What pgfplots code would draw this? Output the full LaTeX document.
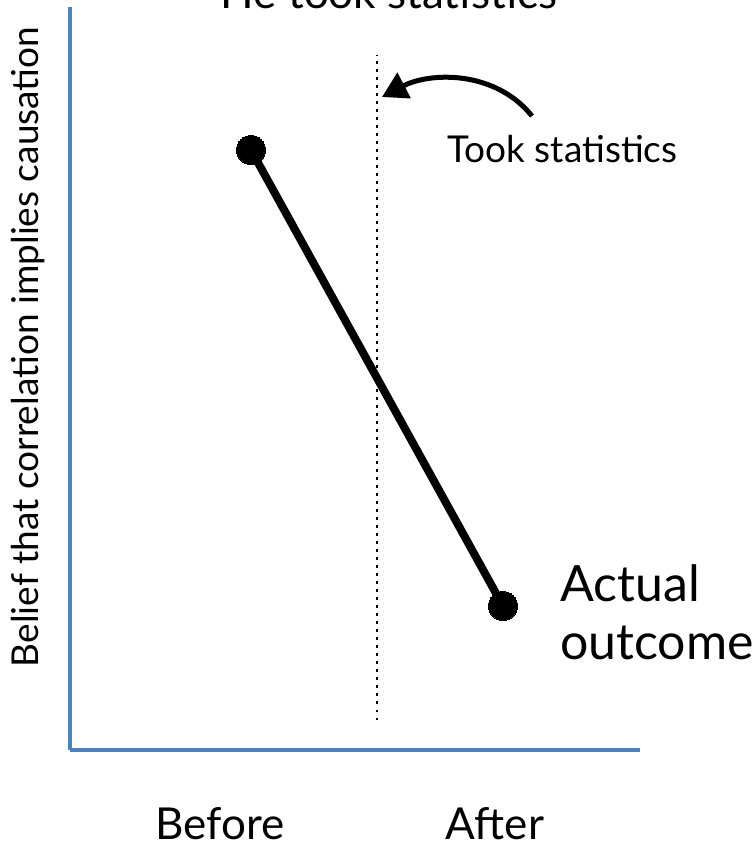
\documentclass[border=0pt]{standalone}
\usepackage{pgfplots}
\pgfplotsset{compat=1.18}
\usepackage{fontspec}
\setmainfont{Lato}
\usetikzlibrary{arrows.meta}
\definecolor{axisblue}{RGB}{79,129,189}
\begin{document}
\begin{tikzpicture}[x=1pt,y=1pt]
\begin{axis}[
  scale only axis, width=570pt, height=743pt,
  xmin=0.2817, xmax=2.5437, ymin=0, ymax=743,
  axis x line=bottom, axis y line=left,
  axis line style={-, draw=axisblue, line width=4pt},
  ytick=\empty,
  xtick={0.877,1.968}, xticklabels={Before,After},
  major tick length=0pt,
  xticklabel style={font=\fontsize{44}{50}\selectfont, anchor=base, inner sep=0pt, yshift=-89pt},
  ylabel={Belief that correlation implies causation},
  ylabel style={font=\fontsize{37}{42}\selectfont, at={(axis description cs:-0.0737,0.5424)}, anchor=center},
  clip=false,
]
\addplot[black, line width=2.5pt, dash pattern=on 2.5pt off 5.5pt] coordinates {(1.5,30) (1.5,695)};
\addplot[black, line width=8pt, mark=*, mark size=14.5pt, mark options={line width=0pt}] coordinates {(1,600) (2,144)};
\coordinate (O) at (rel axis cs:0,0);
\end{axis}
\begin{scope}[shift={(O)}, shift={(-70,750)}]
\draw[line width=5pt, -{Triangle[length=25pt,width=28pt]}] (532,-116) .. controls (495,-70) and (430,-72) .. (382,-97);
\node[anchor=base west, inner sep=0pt, font=\fontsize{37}{42}\selectfont] at (447,-163) {Took statistics};
\node[anchor=base west, inner sep=0pt, font=\fontsize{50}{56}\selectfont] at (560,-602) {Actual};
\node[anchor=base west, inner sep=0pt, font=\fontsize{50}{56}\selectfont] at (560,-660) {outcome};
\node[anchor=base, inner sep=0pt, font=\fontsize{44}{50}\selectfont] at (389,-9) {He took statistics};
\pgfresetboundingbox
\useasboundingbox (0,0) rectangle (755,-845);
\end{scope}
\end{tikzpicture}
\end{document}
